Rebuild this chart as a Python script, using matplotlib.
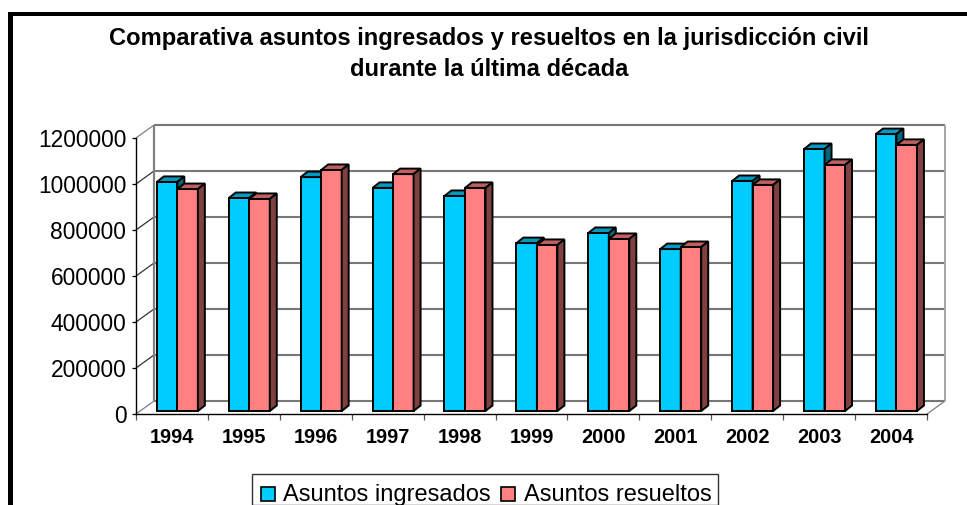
import matplotlib
matplotlib.use("Agg")
import matplotlib.pyplot as plt
from matplotlib.patches import Polygon, Rectangle

years = ["1994", "1995", "1996", "1997", "1998", "1999", "2000", "2001", "2002", "2003", "2004"]
ingresados = [996000, 926000, 1017000, 970000, 935000, 730000, 774000, 704000, 1000000, 1139000, 1204000]
resueltos = [965000, 922000, 1048000, 1030000, 970000, 722000, 748000, 713000, 983000, 1070000, 1157000]
yticks = [0, 200000, 400000, 600000, 800000, 1000000, 1200000]

W, H = 967, 505
plt.rcParams['font.family'] = ['Liberation Sans', 'DejaVu Sans']

fig = plt.figure(figsize=(W / 100, H / 100), dpi=100)
ax = fig.add_axes([136 / W, 1 - 414 / H, (927 - 136) / W, (414 - 138) / H])
ax.set_xlim(0, 11)
ax.set_ylim(0, 1200000)
ax.patch.set_alpha(0)

# depth of the 3d box and of the bars, in data units
px_x = 11 / (927 - 136)
px_y = 1200000 / (414 - 138)
wall_dx, wall_dy = 18 * px_x, 13 * px_y
bar_dx, bar_dy = 7 * px_x, 5.5 * px_y
bar_w = 20.5 * px_x
bar_x0, bar_y0 = 0.29, 3 * px_y


def line(xs, ys, color, lw=1.0, z=1):
    ax.plot(xs, ys, color=color, lw=lw, zorder=z, clip_on=False, solid_capstyle='butt')


# back wall and floor
for v in yticks:
    line([wall_dx, 11 + wall_dx], [v + wall_dy, v + wall_dy], '#777777', 1.5)
    line([0, wall_dx], [v, v + wall_dy], '#808080' if v in (0, 1200000) else '#333333', 0.9)
line([wall_dx, wall_dx], [wall_dy, 1200000 + wall_dy], '#808080', 1.6)
line([11 + wall_dx, 11 + wall_dx], [wall_dy, 1200000 + wall_dy], '#a6a6a6', 1.4)
line([11, 11 + wall_dx], [0, wall_dy], '#808080', 0.9)


def bar3d(x, v, face, top, side, z):
    y0 = bar_y0
    y1 = bar_y0 + v
    ax.bar(x, v, bar_w, bottom=y0, align='edge', color=face, edgecolor='black', lw=1.4, zorder=z, clip_on=False)
    ax.add_patch(Polygon([(x, y1), (x + bar_dx, y1 + bar_dy), (x + bar_w + bar_dx, y1 + bar_dy), (x + bar_w, y1)],
                         fc=top, ec='black', lw=1.4, zorder=z, clip_on=False))
    ax.add_patch(Polygon([(x + bar_w, y0), (x + bar_w + bar_dx, y0 + bar_dy), (x + bar_w + bar_dx, y1 + bar_dy), (x + bar_w, y1)],
                         fc=side, ec='black', lw=1.4, zorder=z, clip_on=False))


for i in range(len(years)):
    bar3d(i + bar_x0, ingresados[i], '#00ccff', '#0099bf', '#006680', 3 + 2 * i)
    bar3d(i + bar_x0 + bar_w, resueltos[i], '#ff8080', '#bf6060', '#804040', 4 + 2 * i)

ax.set_xticks(range(12))
ax.set_xticklabels([])
ax.set_yticks(yticks)
ax.set_yticklabels([str(v) for v in yticks], fontsize=16.4, color='black')
ax.tick_params(axis='y', length=3, width=0.9, pad=4)
ax.tick_params(axis='x', length=4, width=0.9, color='#555555')
for i, y in enumerate(years):
    ax.text(i + 0.5, -14 * px_y, y, ha='center', va='top', fontsize=14.4, fontweight='bold')
for s in ('top', 'right'):
    ax.spines[s].set_visible(False)
for s in ('left', 'bottom'):
    ax.spines[s].set_linewidth(1.0)
    ax.spines[s].set_zorder(50)

fig.text(489 / W, 1 - 38 / H, "Comparativa asuntos ingresados y resueltos en la jurisdicción civil",
         ha='center', va='center', fontsize=17.1, fontweight='bold')
fig.text(489 / W, 1 - 70 / H, "durante la última década",
         ha='center', va='center', fontsize=17.1, fontweight='bold')

# black outer frame
fig.patches.append(Rectangle((8 / W, 0), 5 / W, 1 - 12 / H, transform=fig.transFigure, fc='k', ec='none'))
fig.patches.append(Rectangle((8 / W, 1 - 16 / H), 1 - 8 / W, 4 / H, transform=fig.transFigure, fc='k', ec='none'))

# legend box
fig.patches.append(Rectangle((252 / W, 0), (718 - 252) / W, (505 - 474) / H, transform=fig.transFigure,
                             fc='white', ec='#333333', lw=1.0))
fig.patches.append(Rectangle((261 / W, 1 - 501 / H), 14 / W, 14 / H, transform=fig.transFigure,
                             fc='#00ccff', ec='black', lw=1.2))
fig.patches.append(Rectangle((501 / W, 1 - 501 / H), 14 / W, 14 / H, transform=fig.transFigure,
                             fc='#ff8080', ec='black', lw=1.2))
fig.text(283 / W, 1 - 495 / H, "Asuntos ingresados", ha='left', va='center', fontsize=17)
fig.text(524 / W, 1 - 495 / H, "Asuntos resueltos", ha='left', va='center', fontsize=17)

fig.savefig("out.png", dpi=100)
